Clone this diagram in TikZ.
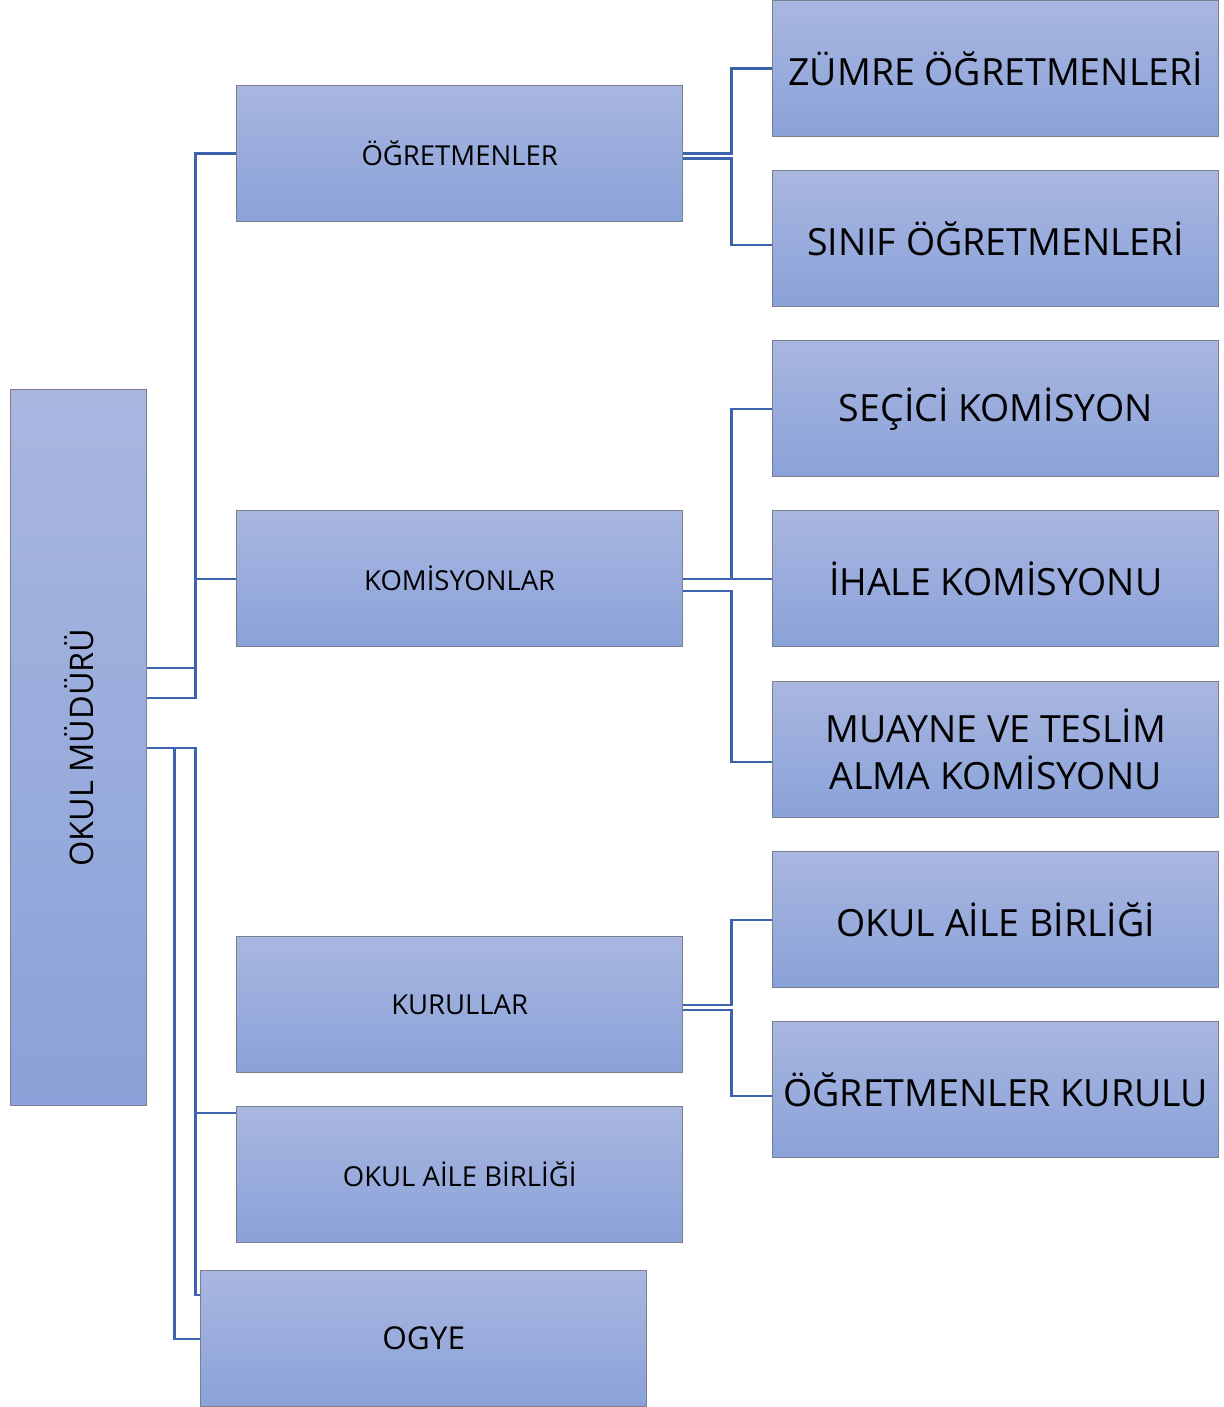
\documentclass[tikz,border=0pt]{standalone}
\usepackage{fontspec}
\setmainfont{Open Sans}
\definecolor{boxtop}{HTML}{A9B6E0}
\definecolor{boxbot}{HTML}{8AA2D9}
\definecolor{boxline}{HTML}{7A7F8C}
\definecolor{conn}{HTML}{3D62AE}
\begin{document}
\begin{tikzpicture}[x=1pt,y=-1pt,
  box/.style={draw=boxline,line width=1.4pt,top color=boxtop,bottom color=boxbot,
    minimum width=446pt,minimum height=136pt,inner sep=0pt,anchor=north west,align=center},
  smalltxt/.style={font=\fontsize{27.5}{33}\selectfont},
  bigtxt/.style={font=\fontsize{37.5}{47}\selectfont},
  link/.style={draw=conn,line width=2.4pt}]
\useasboundingbox (0,0) rectangle (1223,1407);
% left column
\node[box,minimum width=136pt,minimum height=716pt] (mud) at (10,389) {};
\node[rotate=90,font=\fontsize{32.5}{38}\selectfont] (mudt) at (mud.center) {OKUL MÜDÜRÜ};
% middle column
\node[box,smalltxt] (ogr) at (236,85) {ÖĞRETMENLER};
\node[box,smalltxt] (kom) at (236,510) {KOMİSYONLAR};
\node[box,smalltxt] (kur) at (236,936) {KURULLAR};
\node[box,smalltxt] (oab) at (236,1106) {OKUL AİLE BİRLİĞİ};
\node[box,font=\fontsize{31.5}{38}\selectfont] (ogye) at (200,1270) {OGYE};
% right column
\node[box,bigtxt] (zum) at (772,0) {ZÜMRE ÖĞRETMENLERİ};
\node[box,bigtxt] (sin) at (772,170) {SINIF ÖĞRETMENLERİ};
\node[box,bigtxt] (sec) at (772,340) {SEÇİCİ KOMİSYON};
\node[box,bigtxt] (iha) at (772,510) {İHALE KOMİSYONU};
\node[box,bigtxt] (mua) at (772,681) {MUAYNE VE TESLİM\\ALMA KOMİSYONU};
\node[box,bigtxt] (oab2) at (772,851) {OKUL AİLE BİRLİĞİ};
\node[box,bigtxt] (ogk) at (772,1021) {ÖĞRETMENLER KURULU};
% connectors from OKUL MÜDÜRÜ
\draw[link] ([yshift=50pt]mud.east) -- ++(48,0) |- (ogr.west);
\draw[link] ([yshift=80pt]mud.east) -- ++(48,0) |- (kom.west);
\draw[link] (mud.east) -- ++(48,0) |- ([yshift=-7pt]oab.north west);
\draw[link] (mud.east) -- ++(48,0) |- ([yshift=-25pt]ogye.north west);
\draw[link] (mud.east) -- ++(27,0) |- (ogye.west);
% connectors ÖĞRETMENLER
\draw[link] (ogr.east) -- ++(48,0) |- (zum.west);
\draw[link] ([yshift=-5pt]ogr.east) -- ++(48,0) |- ([yshift=-6pt]sin.west);
% connectors KOMİSYONLAR
\draw[link] (kom.east) -- (iha.west);
\draw[link] (kom.east) -- ++(48,0) |- (sec.west);
\draw[link] ([yshift=-12pt]kom.east) -- ++(48,0) |- ([yshift=-12pt]mua.west);
% connectors KURULLAR
\draw[link] (kur.east) -- ++(48,0) |- (oab2.west);
\draw[link] ([yshift=-5pt]kur.east) -- ++(48,0) |- ([yshift=-6pt]ogk.west);
\end{tikzpicture}
\end{document}
